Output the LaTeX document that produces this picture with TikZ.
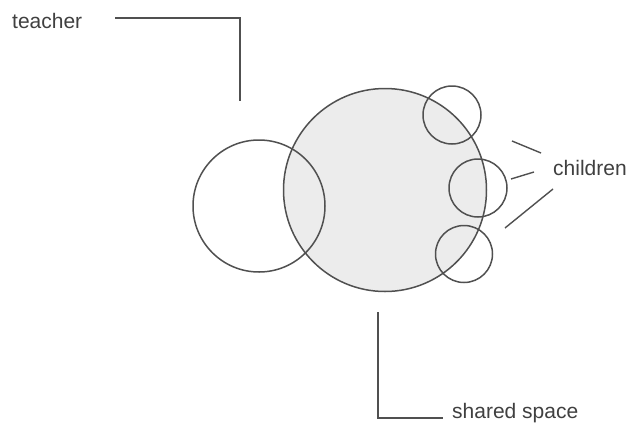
\documentclass[tikz,border=0pt]{standalone}
\usepackage{fontspec}
\setmainfont{Liberation Sans}
\definecolor{linec}{HTML}{505050}
\definecolor{textc}{HTML}{404040}
\definecolor{fillc}{HTML}{ECECEC}
\begin{document}
\begin{tikzpicture}[x=1pt,y=-1pt,
  ring/.style={circle,draw=linec,line width=1.5pt,inner sep=0pt},
  lead/.style={draw=linec,line width=1.4pt},
  lbl/.style={inner sep=0pt,anchor=base west,text=textc,font=\fontsize{21}{24}\selectfont}]
\useasboundingbox (0,0) rectangle (632,429);
\node[ring,fill=fillc,minimum size=203pt] (shared) at (385,190) {};
\node[ring,minimum size=132pt] (teacher) at (259,206) {};
\node[ring,minimum size=58pt] (c1) at (452,115) {};
\node[ring,minimum size=58pt] (c2) at (478,188) {};
\node[ring,minimum size=57pt] (c3) at (464,254) {};
\node[lbl] (tl) at (12,28) {teacher};
\node[lbl] (cl) at (553,175) {children};
\node[lbl] (sl) at (452,418) {shared space};
\coordinate (t1) at (115,18);
\coordinate (t2) at (240,18);
\coordinate (t3) at (240,101);
\draw[lead] (t1) -- (t2) -- (t3);
\coordinate (s1) at (378,312);
\coordinate (s2) at (378,418);
\coordinate (s3) at (443,418);
\draw[lead] (s1) -- (s2) -- (s3);
\coordinate (a1) at (512,141); \coordinate (a2) at (541,153);
\coordinate (b1) at (511,179); \coordinate (b2) at (534,172);
\coordinate (d1) at (505,228); \coordinate (d2) at (553,189);
\draw[lead] (a1) -- (a2);
\draw[lead] (b1) -- (b2);
\draw[lead] (d1) -- (d2);
\end{tikzpicture}
\end{document}
